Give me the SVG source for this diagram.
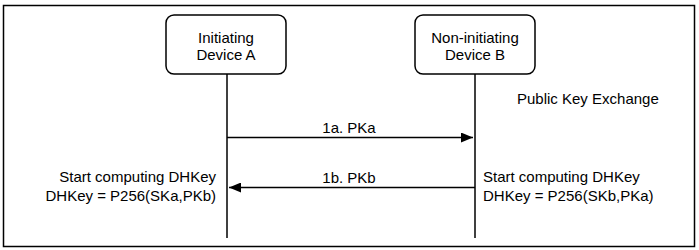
<svg xmlns="http://www.w3.org/2000/svg" width="699" height="250" viewBox="0 0 699 250">
<style>
text{font-family:"Liberation Sans",Arial,sans-serif;font-size:15px;fill:#000}
.box{fill:#fff;stroke:#000;stroke-width:1.5}
.life{stroke:#000;stroke-width:1.5;fill:none}
.msg{stroke:#000;stroke-width:1.5;fill:none}
.c{text-anchor:middle}
.r{text-anchor:end}
</style>
<defs>
<marker id="ah" viewBox="0 0 12 10" refX="12" refY="5" markerWidth="12" markerHeight="10" markerUnits="userSpaceOnUse" orient="auto">
<path d="M0,0 L12,5 L0,10 Z" fill="#000"/>
</marker>
</defs>
<rect x="3.5" y="5.5" width="691" height="241" fill="#fff" stroke="#000" stroke-width="1.5"/>
<g id="deviceA">
<rect class="box" x="166" y="15" width="120" height="59" rx="8"/>
<text class="c" x="226" y="43">Initiating</text>
<text class="c" x="226" y="60">Device A</text>
<line class="life" x1="227" y1="74" x2="227" y2="238"/>
</g>
<g id="deviceB">
<rect class="box" x="415" y="15" width="120" height="59" rx="8"/>
<text class="c" x="475" y="43">Non-initiating</text>
<text class="c" x="475" y="60">Device B</text>
<line class="life" x1="475" y1="74" x2="475" y2="238"/>
</g>
<g id="connectors">
<line class="msg" x1="227" y1="137.5" x2="473" y2="137.5" marker-end="url(#ah)"/>
<line class="msg" x1="475" y1="187.5" x2="229" y2="187.5" marker-end="url(#ah)"/>
</g>
<g id="labels">
<text x="517" y="104">Public Key Exchange</text>
<text class="c" x="349" y="133">1a. PKa</text>
<text class="c" x="349" y="183">1b. PKb</text>
<text class="r" x="216" y="182">Start computing DHKey</text>
<text class="r" x="216" y="201">DHKey = P256(SKa,PKb)</text>
<text x="483" y="182">Start computing DHKey</text>
<text x="483" y="201">DHKey = P256(SKb,PKa)</text>
</g>
</svg>
